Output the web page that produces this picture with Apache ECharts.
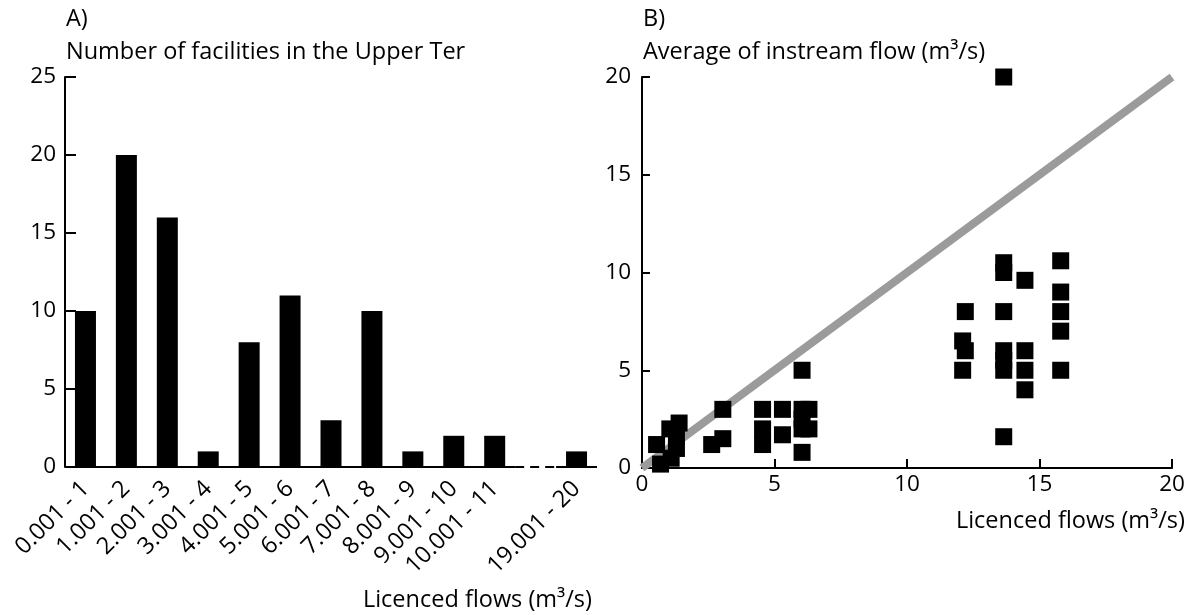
<!DOCTYPE html>
<html><head><meta charset="utf-8">
<script src="https://cdn.jsdelivr.net/npm/echarts@6/dist/echarts.min.js"></script>
<style>html,body{margin:0;padding:0;background:#fff}#c{width:1192px;height:615px}</style>
</head><body><div id="c"></div>
<script>
// ---- Panel A data ----
const flowClasses = ['0.001 - 1','1.001 - 2','2.001 - 3','3.001 - 4','4.001 - 5','5.001 - 6','6.001 - 7','7.001 - 8','8.001 - 9','9.001 - 10','10.001 - 11','','19.001 - 20'];
const facilityCounts = [10,20,16,1,8,11,3,10,1,2,2,null,1];
const countTicks = [0,5,10,15,20,25];
// axis segments (in category units): solid, broken (dashed), solid
const axisSolid1 = [[0,0],[11,0]];
const axisBroken = [[11,0],[12,0]];
const axisSolid2 = [[12,0],[13,0]];

// ---- Panel B data ----
const licencedFlow = [13.65,13.65,13.65,13.65,13.65,13.65,13.65,13.65,
  14.45,14.45,14.45,14.45,
  15.8,15.8,15.8,15.8,15.8,
  12.2,12.1,12.2,12.1,
  0.55,1.05,1.4,1.3,1.3,0.7,1.1,
  2.63,3.05,3.05,
  4.55,4.55,4.55,5.3,5.3,
  6.04,6.04,6.04,6.04,6.3,6.3,6.04];
const instreamFlow = [20,10.5,10.0,8.0,6.0,5.5,5.0,1.6,
  9.6,6.0,5.0,4.0,
  10.6,9.0,8.0,7.0,5.0,
  8.0,6.5,6.0,5.0,
  1.2,2.0,2.3,1.6,1.0,0.2,0.5,
  1.2,1.5,3.0,
  3.0,2.0,1.2,3.0,1.7,
  5.0,3.0,2.5,2.0,3.0,2.0,0.8];
const oneToOneX = [0,20];
const oneToOneY = [0,20];

const FONT = 'Open Sans';
const FS = 23.5;
const TFS = 22.5;
const txt = {color:'#000', fontFamily:FONT, fontSize:FS, fontWeight:'normal'};

const chart = echarts.init(document.getElementById('c'), null, {renderer:'canvas'});
chart.setOption({
  animation:false,
  backgroundColor:'#fff',
  textStyle:{fontFamily:FONT},
  title:[
    {text:'A)', left:61, top:2, textStyle:txt},
    {text:'Number of facilities in the Upper Ter', left:61, top:35, textStyle:txt},
    {text:'B)', left:638, top:2, textStyle:txt},
    {text:'Average of instream flow (m³/s)', left:638, top:35, textStyle:txt},
    {text:'Licenced flows (m³/s)', right:595, top:583, textStyle:txt},
    {text:'Licenced flows (m³/s)', right:2, top:504, textStyle:txt}
  ],
  grid:[
    {left:65, right:595, top:77, bottom:148, containLabel:false},
    {left:642, right:20, top:77, bottom:147, containLabel:false}
  ],
  xAxis:[
    {type:'category', gridIndex:0, data:flowClasses,
     axisLine:{show:false}, axisTick:{show:false},
     axisLabel:{rotate:45, margin:18, interval:0, color:'#000', fontFamily:FONT, fontSize:FS}},
    {type:'value', gridIndex:0, min:0, max:13, show:false},
    {type:'value', gridIndex:1, min:0, max:20, interval:5,
     axisLine:{lineStyle:{color:'#000', width:2}},
     axisTick:{inside:true, length:9, lineStyle:{color:'#000', width:2}},
     splitLine:{show:false},
     axisLabel:{margin:5, color:'#000', fontFamily:FONT, fontSize:TFS}}
  ],
  yAxis:[
    {type:'value', gridIndex:0, min:countTicks[0], max:countTicks[countTicks.length-1], interval:5,
     axisLine:{show:true, lineStyle:{color:'#000', width:2}},
     axisTick:{show:true, inside:true, length:11, lineStyle:{color:'#000', width:2}},
     splitLine:{show:false},
     axisLabel:{margin:9, color:'#000', fontFamily:FONT, fontSize:TFS}},
    {type:'value', gridIndex:1, min:0, max:20, interval:5,
     axisLine:{show:true, lineStyle:{color:'#000', width:2}},
     axisTick:{show:true, inside:true, length:8, lineStyle:{color:'#000', width:2}},
     splitLine:{show:false},
     axisLabel:{margin:11, color:'#000', fontFamily:FONT, fontSize:TFS}}
  ],
  series:[
    {type:'bar', xAxisIndex:0, yAxisIndex:0, data:facilityCounts, barWidth:21,
     itemStyle:{color:'#000'}, z:2},
    {type:'line', xAxisIndex:1, yAxisIndex:0, data:axisSolid1, symbol:'none',
     lineStyle:{color:'#000', width:2}, z:3},
    {type:'line', xAxisIndex:1, yAxisIndex:0, data:axisBroken, symbol:'none',
     lineStyle:{color:'#000', width:2, type:[9,6], dashOffset:0}, z:3},
    {type:'line', xAxisIndex:1, yAxisIndex:0, data:axisSolid2, symbol:'none',
     lineStyle:{color:'#000', width:2}, z:3},
    {type:'line', xAxisIndex:2, yAxisIndex:1,
     data:oneToOneX.map((x,i)=>[x, oneToOneY[i]]), symbol:'none',
     lineStyle:{color:'#9b9b9b', width:8, cap:'butt'}, z:1},
    {type:'scatter', xAxisIndex:2, yAxisIndex:1,
     data:licencedFlow.map((x,i)=>[x, instreamFlow[i]]),
     symbol:'rect', symbolSize:17, itemStyle:{color:'#000', opacity:1}, z:4}
  ]
});
</script>
</body></html>
